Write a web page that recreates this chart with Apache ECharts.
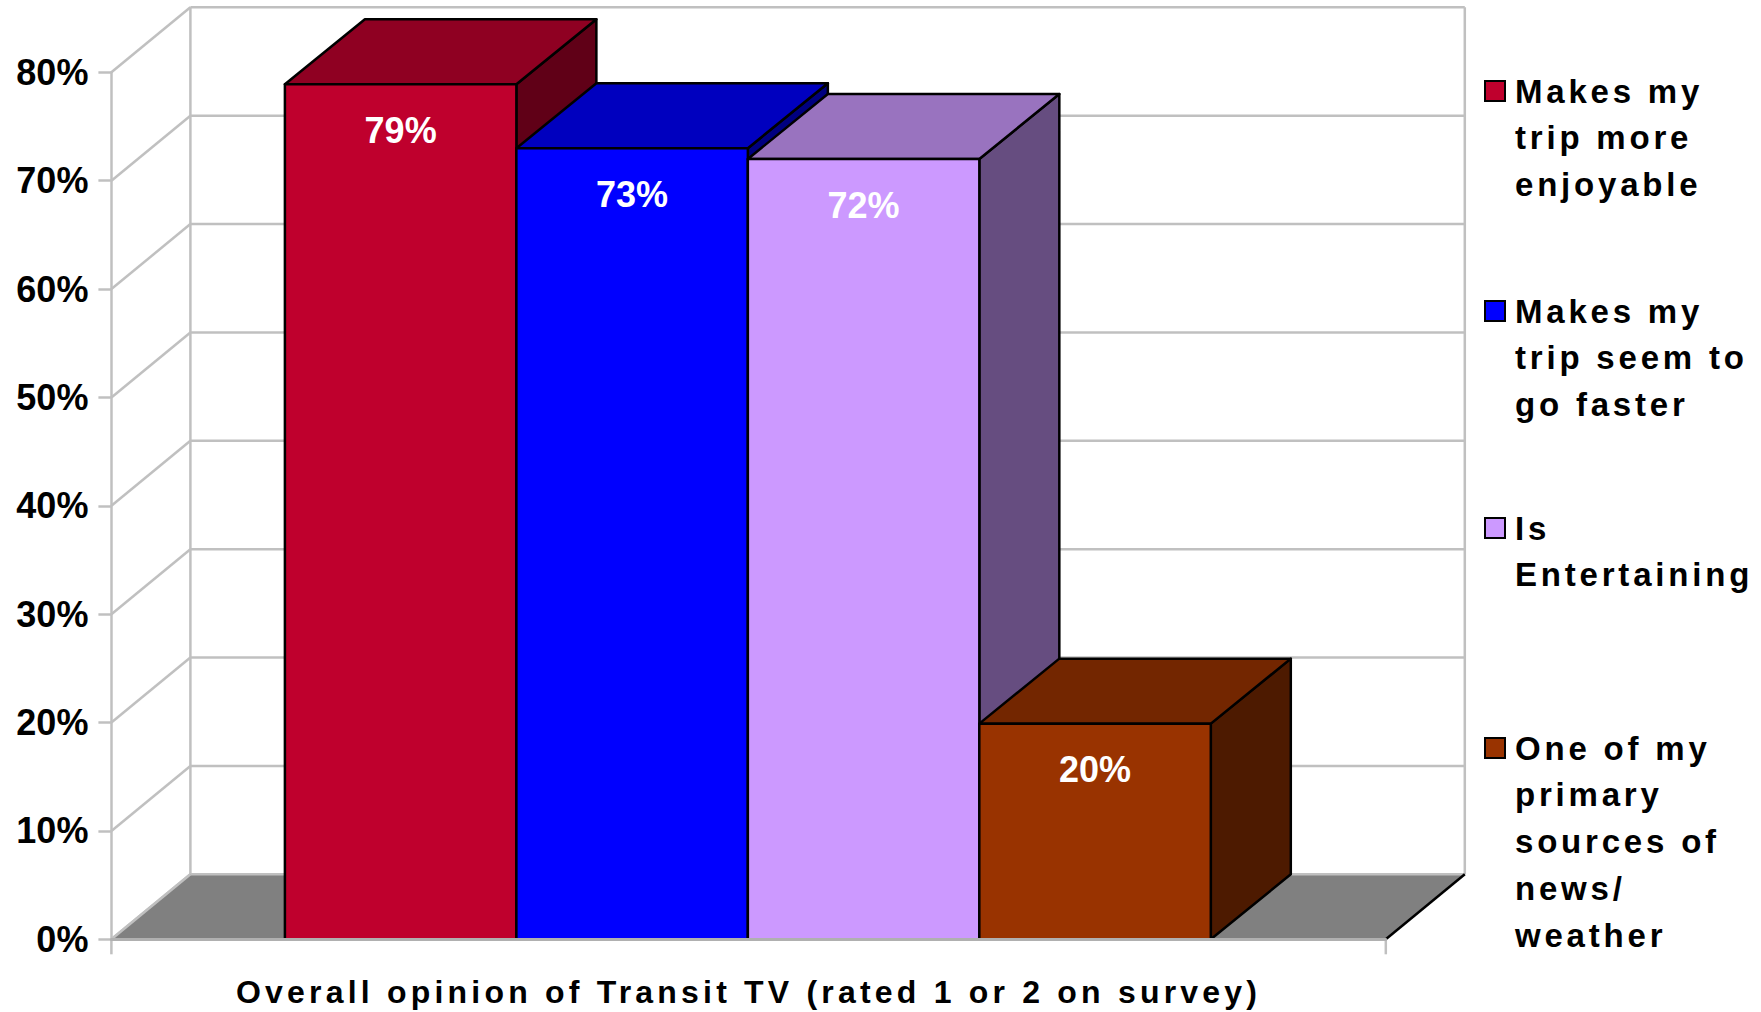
<!DOCTYPE html>
<html>
<head>
<meta charset="utf-8">
<style>
html, body { margin: 0; padding: 0; background: #fff; }
#main { width: 1761px; height: 1012px; }
/* the source chart has wide-tracked text on legend and x label */
text[style*="33px"] { letter-spacing: 3.8px; }
text[style*="32px"] { letter-spacing: 4.2px; }
</style>
<script src="https://cdn.jsdelivr.net/npm/echarts@6/dist/echarts.min.js"></script>
</head>
<body>
<div id="main"></div>
<script>
var categories = ['Overall opinion of Transit TV (rated 1 or 2 on survey)'];
var seriesNames = [
    'Makes my\ntrip more\nenjoyable',
    'Makes my\ntrip seem to\ngo faster',
    'Is\nEntertaining',
    'One of my\nprimary\nsources of\nnews/\nweather'
];
var seriesValues = [78.9, 73, 72, 19.9];
var seriesColors = ['#BF002D', '#0000FF', '#CC99FF', '#993300'];
var topColors = ['#8F0022', '#0000BF', '#9973BF', '#732600'];
var sideColors = ['#600017', '#000080', '#664D80', '#4D1A00'];
var yTicks = [0, 10, 20, 30, 40, 50, 60, 70, 80];
var legendFirstLine = [91, 311, 528, 748];

var DEPTH_X = 79, DEPTH_Y = 65;   // 3d offset of the back wall
var BAR_DEPTH_X = 80;
var GAP_LEFT = 173.5, GAP_RIGHT = 175;   // empty floor beside the bars
var TICK_LEN = 15;
var LEGEND_LH = 46.8;
var WALL = '#C0C0C0';
var font = 'Liberation Sans';

var myChart = echarts.init(document.getElementById('main'), null, { renderer: 'svg' });

// back wall, side wall and floor
function renderWall(params, api) {
    var v = api.value(1);
    var p = api.coord([0, v]);
    var band = api.size([1, 0])[0];
    var x0 = p[0] - band / 2, x1 = p[0] + band / 2, y = p[1];
    var line = { stroke: WALL, lineWidth: 2.5 };
    var children = [
        { type: 'line', shape: { x1: x0, y1: y, x2: x0 + DEPTH_X, y2: y - DEPTH_Y }, style: line },
        { type: 'line', shape: { x1: x0 + DEPTH_X, y1: y - DEPTH_Y, x2: x1 + DEPTH_X, y2: y - DEPTH_Y }, style: line }
    ];
    if (v === 0) {
        var top = api.coord([0, yTicks[yTicks.length - 1]])[1];
        children.unshift(
            { type: 'line', shape: { x1: x0 + DEPTH_X, y1: y - DEPTH_Y, x2: x0 + DEPTH_X, y2: top - DEPTH_Y }, style: line },
            { type: 'line', shape: { x1: x1 + DEPTH_X, y1: y - DEPTH_Y, x2: x1 + DEPTH_X, y2: top - DEPTH_Y }, style: line }
        );
        children.push(
            { type: 'polygon', shape: { points: [[x0, y], [x1, y], [x1 + DEPTH_X, y - DEPTH_Y], [x0 + DEPTH_X, y - DEPTH_Y]] }, style: { fill: '#808080' } },
            { type: 'line', shape: { x1: x0, y1: y, x2: x0 + DEPTH_X, y2: y - DEPTH_Y }, style: line },
            { type: 'line', shape: { x1: x0 + DEPTH_X, y1: y - DEPTH_Y, x2: x1 + DEPTH_X, y2: y - DEPTH_Y }, style: line },
            { type: 'line', shape: { x1: x1, y1: y, x2: x1 + DEPTH_X, y2: y - DEPTH_Y }, style: { stroke: '#000', lineWidth: 2.5 } },
            // x axis ticks, one axis band has none of its own
            { type: 'line', shape: { x1: x0, y1: y, x2: x0, y2: y + TICK_LEN }, style: line },
            { type: 'line', shape: { x1: x1, y1: y, x2: x1, y2: y + TICK_LEN }, style: line }
        );
    }
    return { type: 'group', children: children };
}

// one 3d bar: front, top and side faces
function renderBar(i) {
    return function (params, api) {
        var base = api.coord([0, 0]);
        var top = api.coord([0, api.value(1)]);
        var band = api.size([1, 0])[0];
        var w = (band - GAP_LEFT - GAP_RIGHT) / seriesValues.length;
        var l = base[0] - band / 2 + GAP_LEFT + i * w, r = l + w;
        var y0 = base[1], y1 = top[1];
        var edge = { stroke: '#000', lineWidth: 2.5, lineJoin: 'round' };
        return {
            type: 'group',
            children: [
                { type: 'polygon', shape: { points: [[r, y0], [r + BAR_DEPTH_X, y0 - DEPTH_Y], [r + BAR_DEPTH_X, y1 - DEPTH_Y], [r, y1]] },
                  style: Object.assign({ fill: sideColors[i] }, edge) },
                { type: 'polygon', shape: { points: [[l, y1], [r, y1], [r + BAR_DEPTH_X, y1 - DEPTH_Y], [l + BAR_DEPTH_X, y1 - DEPTH_Y]] },
                  style: Object.assign({ fill: topColors[i] }, edge) },
                { type: 'rect', shape: { x: l, y: y1, width: w, height: y0 - y1 },
                  style: Object.assign({ fill: seriesColors[i] }, edge) },
                { type: 'text', style: {
                    x: (l + r) / 2, y: y1 + 46,
                    text: Math.round(api.value(1)) + '%',
                    fill: '#fff',
                    font: 'bold 36px "' + font + '"',
                    align: 'center', verticalAlign: 'middle'
                } }
            ]
        };
    };
}

var series = [{
    type: 'custom',
    name: 'walls',
    z: 1,
    silent: true,
    renderItem: renderWall,
    encode: { x: 0, y: 1 },
    data: yTicks.map(function (v) { return [0, v]; })
}];
seriesNames.forEach(function (name, i) {
    series.push({
        type: 'custom',
        name: name,
        z: 2 + i,
        silent: true,
        itemStyle: { color: seriesColors[i] },
        renderItem: renderBar(i),
        encode: { x: 0, y: 1 },
        data: [[0, seriesValues[i]]]
    });
});

// one legend per entry, blank lines in front keep the marker on the first text line
var legends = seriesNames.map(function (name, i) {
    var n = name.split('\n').length;
    return {
        orient: 'vertical',
        left: 1484,
        top: legendFirstLine[i] - (2 * n - 1) * LEGEND_LH / 2,
        padding: 0,
        icon: 'rect',
        itemWidth: 20,
        itemHeight: 20,
        selectedMode: false,
        data: [name],
        formatter: function (s) { return '\n'.repeat(n - 1) + s; },
        itemStyle: { color: seriesColors[i], borderColor: '#000', borderWidth: 2 },
        textStyle: {
            color: '#000',
            fontFamily: font,
            fontWeight: 'bold',
            fontSize: 33,
            lineHeight: LEGEND_LH,
            padding: [0, 0, 0, 5]
        }
    };
});

myChart.setOption({
    animation: false,
    backgroundColor: '#fff',
    legend: legends,
    grid: { left: 111.4, right: 375.2, top: 72.3, bottom: 72.7 },
    xAxis: {
        type: 'category',
        data: categories,
        z: 20,
        axisLine: { lineStyle: { color: '#B0B0B0', width: 3 } },
        axisTick: { show: false },
        axisLabel: {
            color: '#000',
            fontFamily: font,
            fontWeight: 'bold',
            fontSize: 32,
            margin: 37
        }
    },
    yAxis: {
        type: 'value',
        min: 0,
        max: 80,
        interval: 10,
        splitLine: { show: false },
        axisLine: { show: true, lineStyle: { color: WALL, width: 2.5 } },
        axisTick: { show: true, length: 13, lineStyle: { color: WALL, width: 2.5 } },
        axisLabel: {
            color: '#000',
            fontFamily: font,
            fontWeight: 'bold',
            fontSize: 36,
            margin: 23,
            formatter: '{value}%'
        }
    },
    series: series
});
</script>
</body>
</html>
